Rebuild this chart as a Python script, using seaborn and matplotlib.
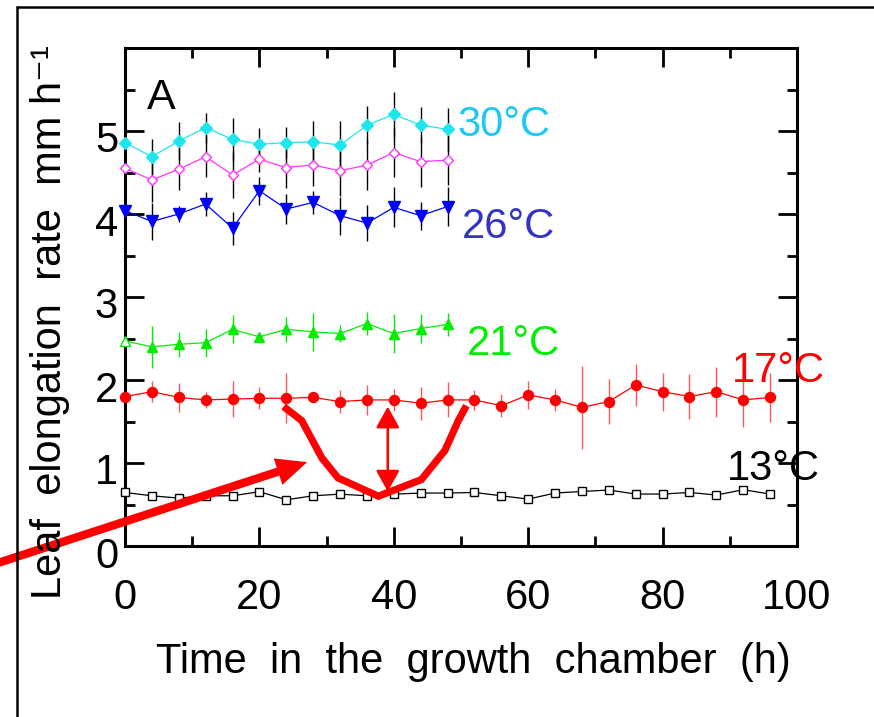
import numpy as np
import pandas as pd
import matplotlib
matplotlib.use("Agg")
import matplotlib.pyplot as plt
import seaborn as sns
from matplotlib.lines import Line2D
from matplotlib.ticker import MultipleLocator
from matplotlib.transforms import ScaledTranslation

# ---------------- data ----------------
time_short = [0, 4, 8, 12, 16, 20, 24, 28, 32, 36, 40, 44, 48]
time_long = [0, 4, 8, 12, 16, 20, 24, 28, 32, 36, 40, 44, 48,
             52, 56, 60, 64, 68, 72, 76, 80, 84, 88, 92, 96]

rate_30 = [4.86, 4.69, 4.88, 5.04, 4.90, 4.84, 4.86, 4.87, 4.83, 5.07, 5.20, 5.07, 5.02]
err_30 = [0.00, 0.21, 0.23, 0.18, 0.26, 0.20, 0.19, 0.25, 0.29, 0.23, 0.27, 0.22, 0.26]

rate_28 = [4.55, 4.41, 4.54, 4.69, 4.47, 4.66, 4.56, 4.59, 4.52, 4.59, 4.74, 4.63, 4.65]
err_28 = [0.00, 0.27, 0.25, 0.25, 0.28, 0.15, 0.25, 0.25, 0.30, 0.30, 0.30, 0.30, 0.30]

rate_26 = [4.04, 3.91, 4.00, 4.12, 3.83, 4.28, 4.06, 4.14, 3.98, 3.89, 4.08, 3.98, 4.09]
err_26 = [0.00, 0.22, 0.10, 0.15, 0.20, 0.17, 0.18, 0.14, 0.23, 0.22, 0.24, 0.17, 0.23]

rate_21 = [2.47, 2.40, 2.43, 2.45, 2.61, 2.52, 2.61, 2.58, 2.56, 2.68, 2.56, 2.62, 2.67]
err_21 = [0.00, 0.25, 0.15, 0.17, 0.17, 0.05, 0.15, 0.23, 0.10, 0.14, 0.23, 0.18, 0.14]

rate_17 = [1.80, 1.86, 1.79, 1.76, 1.77, 1.78, 1.78, 1.79, 1.74, 1.76, 1.76, 1.72, 1.76,
           1.76, 1.69, 1.82, 1.76, 1.67, 1.74, 1.94, 1.86, 1.80, 1.86, 1.76, 1.79]
err_17 = [0.00, 0.13, 0.17, 0.10, 0.22, 0.13, 0.30, 0.05, 0.14, 0.18, 0.13, 0.20, 0.21,
          0.12, 0.14, 0.17, 0.13, 0.50, 0.27, 0.25, 0.23, 0.27, 0.30, 0.33, 0.30]

rate_13 = [0.645, 0.605, 0.577, 0.605, 0.605, 0.654, 0.557, 0.605, 0.625, 0.605, 0.625, 0.638, 0.638,
           0.645, 0.605, 0.565, 0.638, 0.657, 0.674, 0.626, 0.626, 0.645, 0.614, 0.678, 0.626]
err_13 = [0.04, 0.04, 0.05, 0.03, 0.03, 0.05, 0.05, 0.03, 0.04, 0.03, 0.04, 0.04, 0.04,
          0.04, 0.03, 0.03, 0.04, 0.04, 0.04, 0.04, 0.04, 0.04, 0.04, 0.03, 0.04]

temp_labels = ["30°C", "26°C", "21°C", "17°C", "13°C"]

# annotation (hand-drawn red curve under the 17 °C series)
curve_x = [23.6, 26.3, 29.3, 31.7, 37.7, 44.1, 47.6, 49.6, 50.8]
curve_y = [1.68, 1.51, 1.06, 0.82, 0.60, 0.80, 1.15, 1.51, 1.69]

# ---------------- style ----------------
sns.set_style("white")
plt.rcParams["font.family"] = ["Liberation Sans", "DejaVu Sans"]
for key in ["text.color", "axes.labelcolor", "xtick.color", "ytick.color", "axes.edgecolor"]:
    plt.rcParams[key] = "black"

fig = plt.figure(figsize=(8.74, 7.17), dpi=100)
ax = fig.add_axes([125 / 874, 1 - 546 / 717, (797 - 125) / 874, (546 - 48) / 717])

series = [
    dict(t=time_short, y=rate_30, e=err_30, color="#1FE6EE", marker="D", ms=5.8,
         mfc="#1FE6EE", ecol="black"),
    dict(t=time_short, y=rate_28, e=err_28, color="#FF33FF", marker="D", ms=5.2,
         mfc="white", ecol="black"),
    dict(t=time_short, y=rate_26, e=err_26, color="#0000FF", marker="v", ms=8.5,
         mfc="#0000FF", ecol="black"),
    dict(t=time_short, y=rate_21, e=err_21, color="#00EE00", marker="^", ms=7.5,
         mfc="#00EE00", ecol="#00EE00"),
    dict(t=time_long, y=rate_17, e=err_17, color="#FF0000", marker="o", ms=7.2,
         mfc="#FF0000", ecol="#FF5555"),
    dict(t=time_long, y=rate_13, e=err_13, color="black", marker="s", ms=6.2,
         mfc="white", ecol="black"),
]

for i, s in enumerate(series):
    df = pd.DataFrame({"time": s["t"], "rate": s["y"]})
    ax.errorbar(s["t"], s["y"], yerr=s["e"], fmt="none", ecolor=s["ecol"],
                elinewidth=1.0, capsize=0, zorder=2 + i * 0.1, clip_on=False)
    every = slice(1, None) if s["marker"] == "^" else None
    sns.lineplot(data=df, x="time", y="rate", ax=ax, color=s["color"],
                 marker=s["marker"], markersize=s["ms"], markerfacecolor=s["mfc"],
                 markeredgecolor=s["color"], markeredgewidth=1.0, linewidth=0.9,
                 errorbar=None, markevery=every, zorder=3 + i * 0.1, clip_on=False)
    if s["marker"] == "^":
        ax.plot(s["t"][:1], s["y"][:1], linestyle="none", marker="^", ms=s["ms"],
                mfc="white", mec=s["color"], mew=1.0, zorder=4, clip_on=False)

# temperature labels
label_cfg = [
    (49.4, 4.94, "#1EC8F0"),
    (50.2, 3.71, "#3333CC"),
    (50.9, 2.30, "#00EE00"),
    (90.3, 1.98, "#FF0000"),
    (89.6, 0.80, "black"),
]
for txt, (lx, ly, c) in zip(temp_labels, label_cfg):
    ax.text(lx, ly, txt, color=c, fontsize=30, ha="left", va="baseline",
            clip_on=False, zorder=6)

ax.text(3.3, 5.26, "A", fontsize=31, ha="left", va="baseline")

# red annotation curve and arrows
ax.plot(curve_x, curve_y, color="#FF0000", linewidth=5.2, zorder=8,
        solid_joinstyle="miter", solid_capstyle="butt", clip_on=False)
ax.annotate("", xy=(39.1, 1.68), xytext=(39.1, 0.655),
            arrowprops=dict(arrowstyle="<|-|>,head_length=0.65,head_width=0.36",
                            mutation_scale=20, color="#FF0000", lw=1.8,
                            shrinkA=0, shrinkB=0), zorder=8)
ax.annotate("", xy=(27.1, 1.01), xytext=(-19.5, -0.22), annotation_clip=False,
            arrowprops=dict(arrowstyle="simple,head_length=1.1,head_width=1.0,tail_width=0.3",
                            mutation_scale=20, color="#FF0000", lw=0,
                            shrinkA=0, shrinkB=0), zorder=9)

# axes formatting
ax.set_xlim(0, 100)
ax.set_ylim(0, 6)
ax.set_xticks([0, 20, 40, 60, 80, 100])
ax.set_yticks([0, 1, 2, 3, 4, 5])
ax.xaxis.set_minor_locator(MultipleLocator(10))
ax.yaxis.set_minor_locator(MultipleLocator(0.5))
ax.tick_params(which="both", direction="in", top=True, right=True,
               bottom=True, left=True, color="black", labelcolor="black")
ax.tick_params(which="major", length=14, width=2)
ax.tick_params(which="minor", length=7, width=2)
ax.tick_params(axis="x", which="major", labelsize=30, pad=23)
ax.tick_params(axis="y", which="major", labelsize=30, pad=5)
for sp in ax.spines.values():
    sp.set_visible(True)
    sp.set_linewidth(2.2)
    sp.set_color("black")
ax.set_xlabel("")
ax.set_ylabel("")
for lab in ax.get_yticklabels():
    lab.set_transform(lab.get_transform() + ScaledTranslation(0, -6 / 100, fig.dpi_scale_trans))

fig.text(473.5 / 874, 1 - 673 / 717, "Time  in  the  growth  chamber  (h)",
         fontsize=30, ha="center", va="baseline", color="black")
fig.text(50 / 874, 1 - 322 / 717, "Leaf  elongation  rate  mm h\u207b\u00b9",
         fontsize=30, rotation=90, ha="center", va="center", color="black")

# outer frame (left and top edges visible)
fig.add_artist(Line2D([17 / 874, 17 / 874], [0, 1 - 7 / 717], transform=fig.transFigure,
                      color="black", linewidth=1.8))
fig.add_artist(Line2D([17 / 874, 1.0], [1 - 7 / 717, 1 - 7 / 717], transform=fig.transFigure,
                      color="black", linewidth=1.8))

fig.savefig("out.png", dpi=100, facecolor="white")
